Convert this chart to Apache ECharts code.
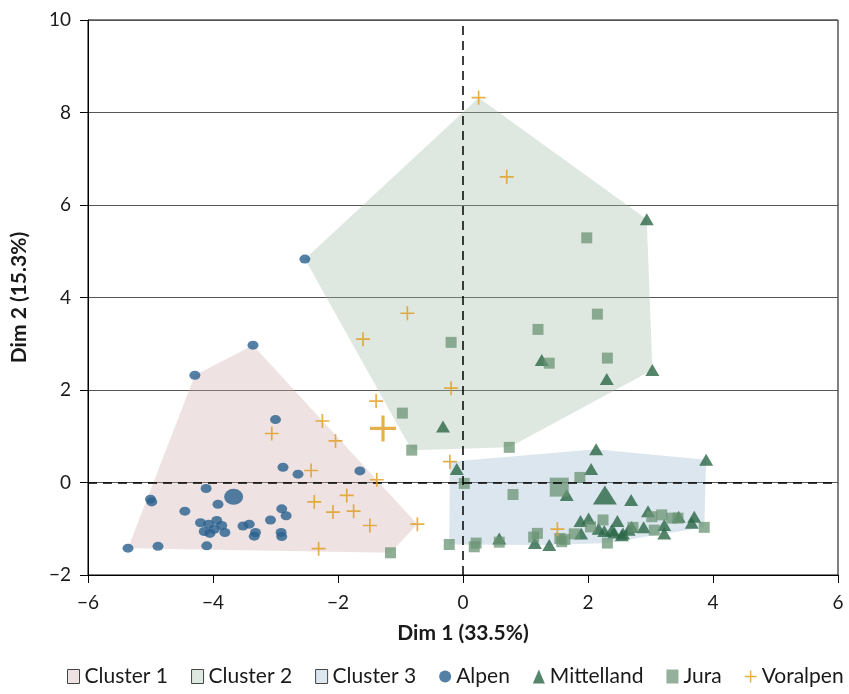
<!DOCTYPE html>
<html>
<head>
<meta charset="utf-8">
<script src="https://cdn.jsdelivr.net/npm/echarts@6/dist/echarts.min.js"></script>
<style>html,body{margin:0;padding:0;background:#fff;}#c{width:849px;height:694px;}</style>
</head>
<body>
<div id="c"></div>
<script>
// ---- data ----
const xTicks = [-6, -4, -2, 0, 2, 4, 6];
const yTicks = [-2, 0, 2, 4, 6, 8, 10];

const alpen = [
  [-3.36, 2.97], [-4.29, 2.32], [-2.53, 4.83], [-3.00, 1.36], [-2.88, 0.33], [-2.64, 0.18],
  [-1.65, 0.25], [-4.11, -0.13], [-5.00, -0.36], [-4.98, -0.42], [-3.92, -0.47], [-4.45, -0.62],
  [-2.90, -0.57], [-2.83, -0.72], [-3.08, -0.81], [-4.20, -0.87], [-4.07, -0.90], [-3.94, -0.82],
  [-3.86, -0.93], [-3.81, -1.08], [-4.14, -1.06], [-4.05, -1.10], [-3.98, -1.01], [-3.52, -0.94],
  [-3.42, -0.90], [-3.32, -1.08], [-3.34, -1.16], [-2.91, -1.08], [-2.90, -1.17], [-4.10, -1.37],
  [-4.88, -1.38], [-5.36, -1.42]
];
const alpenCenter = [[-3.67, -0.31]];

const mittelland = [
  [2.94, 5.69], [1.26, 2.65], [2.30, 2.24], [3.03, 2.43], [-0.32, 1.21], [2.13, 0.72],
  [-0.10, 0.29], [2.05, 0.29], [1.66, -0.27], [3.89, 0.49], [2.69, -0.38], [0.58, -1.21],
  [1.15, -1.31], [1.38, -1.35], [1.88, -0.83], [2.01, -0.78], [1.89, -1.10], [2.17, -1.00],
  [2.26, -1.05], [2.38, -1.03], [2.47, -0.83], [2.42, -1.08], [2.56, -1.10], [2.65, -1.02],
  [2.96, -0.62], [2.89, -0.97], [2.70, -0.96], [3.22, -0.92], [3.22, -1.10], [3.45, -0.74],
  [3.70, -0.74], [3.66, -0.87], [2.54, -1.14]
];
const mittellandCenter = [[2.27, -0.27]];

const jura = [
  [1.98, 5.29], [2.15, 3.64], [1.20, 3.31], [1.38, 2.58], [2.31, 2.69], [-0.19, 3.03],
  [-0.97, 1.50], [-0.82, 0.70], [0.74, 0.76], [-1.16, -1.52], [0.02, -0.02], [0.80, -0.26],
  [1.87, 0.11], [-0.22, -1.34], [0.21, -1.31], [0.18, -1.39], [0.58, -1.29], [1.19, -1.10],
  [1.13, -1.18], [1.55, -1.21], [1.63, -1.23], [1.58, -1.28], [1.78, -1.11], [2.24, -0.81],
  [2.04, -0.96], [2.31, -1.31], [3.02, -0.74], [3.18, -0.70], [3.34, -0.77], [3.06, -1.03],
  [2.72, -0.97], [3.86, -0.97], [3.44, -0.77]
];
const juraCenter = [[1.54, -0.10]];

const voralpen = [
  [0.25, 8.32], [0.70, 6.61], [-0.89, 3.66], [-1.60, 3.10], [-0.19, 2.04], [-1.39, 1.76],
  [-2.25, 1.33], [-2.04, 0.90], [-3.06, 1.06], [-2.43, 0.26], [-1.38, 0.06], [-1.86, -0.28],
  [-2.38, -0.42], [-2.08, -0.64], [-1.75, -0.62], [-1.49, -0.93], [-0.73, -0.90], [-2.31, -1.43],
  [-0.21, 0.45], [1.51, -1.01]
];
const voralpenCenter = [[-1.28, 1.17]];

const cluster1Hull = [[-3.36, 2.97], [-4.29, 2.32], [-5.36, -1.42], [-1.16, -1.52], [-0.73, -0.90]];
const cluster2Hull = [[0.25, 8.32], [2.94, 5.69], [3.03, 2.43], [0.74, 0.76], [-0.82, 0.70], [-2.53, 4.83]];
const cluster3Hull = [[-0.21, 0.45], [2.13, 0.72], [3.89, 0.49], [3.86, -0.97], [2.31, -1.31], [1.38, -1.35], [-0.22, -1.34]];

// ---- styles ----
const FONT = 'Lato';
const TXT = '#1a1a1a';
const plusPath = 'path://M4.4,0H5.6V4.4H10V5.6H5.6V10H4.4V5.6H0V4.4H4.4Z';
const C_ALPEN = '#29608e';
const C_MITTEL = '#2b6746';
const C_JURA = 'rgba(104,146,114,0.92)';
const C_VOR = '#e09b1c';

function hullSeries(name, hull, fill) {
  return {
    name: name,
    type: 'custom',
    data: hull,
    z: 1,
    silent: true,
    itemStyle: { color: fill },
    renderItem: function (params, api) {
      if (params.dataIndex !== 0) return null;
      const pts = hull.map(function (p) { return api.coord(p); });
      return { type: 'polygon', shape: { points: pts }, style: { fill: fill } };
    }
  };
}

const minus = v => String(v).replace('-', '\u2212');

const chart = echarts.init(document.getElementById('c'), null, { renderer: 'canvas' });
chart.setOption({
  animation: false,
  backgroundColor: '#fff',
  grid: { left: 88, right: 11, top: 20, bottom: 119, show: true, borderColor: '#000', borderWidth: 1, backgroundColor: 'transparent' },
  xAxis: {
    type: 'value', min: xTicks[0], max: xTicks[xTicks.length - 1], interval: 2,
    name: 'Dim 1 (33.5%)', nameLocation: 'middle', nameGap: 48,
    nameTextStyle: { fontFamily: FONT, fontWeight: 'bold', fontSize: 21, color: TXT },
    axisLine: { show: true, onZero: false, lineStyle: { color: '#000', width: 1 } },
    axisTick: { show: true, length: 8, lineStyle: { color: '#000' } },
    axisLabel: { fontFamily: FONT, fontSize: 19, color: TXT, margin: 18, formatter: minus },
    splitLine: { show: false }
  },
  yAxis: {
    type: 'value', min: yTicks[0], max: yTicks[yTicks.length - 1], interval: 2,
    name: 'Dim 2 (15.3%)', nameLocation: 'middle', nameGap: 58,
    nameTextStyle: { fontFamily: FONT, fontWeight: 'bold', fontSize: 21, color: TXT },
    axisLine: { show: true, onZero: false, lineStyle: { color: '#000', width: 1 } },
    axisTick: { show: true, length: 8, lineStyle: { color: '#000' } },
    axisLabel: { fontFamily: FONT, fontSize: 19, color: TXT, margin: 17, formatter: minus },
    splitLine: { show: true, lineStyle: { color: '#555', width: 1 } }
  },
  legend: {
    bottom: 2, left: 62,
    itemWidth: 12, itemHeight: 14, itemGap: 23,
    textStyle: { fontFamily: FONT, fontSize: 21, color: TXT },
    data: [
      { name: 'Cluster 1', icon: 'rect', itemStyle: { color: '#efe2e2', borderColor: '#444', borderWidth: 1 } },
      { name: 'Cluster 2', icon: 'rect', itemStyle: { color: '#dfe8e0', borderColor: '#444', borderWidth: 1 } },
      { name: 'Cluster 3', icon: 'rect', itemStyle: { color: '#dce6ee', borderColor: '#444', borderWidth: 1 } },
      { name: 'Alpen', icon: 'circle', itemStyle: { color: C_ALPEN } },
      { name: 'Mittelland', icon: 'triangle', itemStyle: { color: C_MITTEL } },
      { name: 'Jura', icon: 'rect', itemStyle: { color: '#7a9e82' } },
      { name: 'Voralpen', icon: plusPath, itemStyle: { color: C_VOR } }
    ]
  },
  series: [
    hullSeries('Cluster 1', cluster1Hull, 'rgba(209,172,172,0.35)'),
    hullSeries('Cluster 2', cluster2Hull, 'rgba(164,189,166,0.35)'),
    hullSeries('Cluster 3', cluster3Hull, 'rgba(155,184,206,0.35)'),
    {
      name: 'ref', type: 'line', data: [], z: 2, silent: true,
      markLine: {
        symbol: 'none', silent: true, animation: false, label: { show: false },
        lineStyle: { color: '#000', type: [9, 6], width: 1.5 },
        data: [{ xAxis: 0 }, { yAxis: 0 }]
      }
    },
    { name: 'Alpen', type: 'scatter', z: 3, data: alpen, symbol: 'circle', symbolSize: [11, 9], itemStyle: { color: C_ALPEN } },
    { name: 'Alpen', type: 'scatter', z: 3, data: alpenCenter, symbol: 'circle', symbolSize: [19, 16], itemStyle: { color: C_ALPEN } },
    { name: 'Mittelland', type: 'scatter', z: 3, data: mittelland, symbol: 'triangle', symbolSize: [14, 12], itemStyle: { color: C_MITTEL } },
    { name: 'Mittelland', type: 'scatter', z: 3, data: mittellandCenter, symbol: 'triangle', symbolSize: [24, 19], itemStyle: { color: C_MITTEL } },
    { name: 'Jura', type: 'scatter', z: 4, data: jura, symbol: 'rect', symbolSize: 11, itemStyle: { color: C_JURA } },
    { name: 'Jura', type: 'scatter', z: 4, data: juraCenter, symbol: 'rect', symbolSize: 19, itemStyle: { color: C_JURA } },
    { name: 'Voralpen', type: 'scatter', z: 5, data: voralpen, symbol: plusPath, symbolSize: 14, itemStyle: { color: C_VOR } },
    { name: 'Voralpen', type: 'scatter', z: 5, data: voralpenCenter, symbol: plusPath, symbolSize: 26, itemStyle: { color: C_VOR } }
  ]
});
</script>
</body>
</html>
